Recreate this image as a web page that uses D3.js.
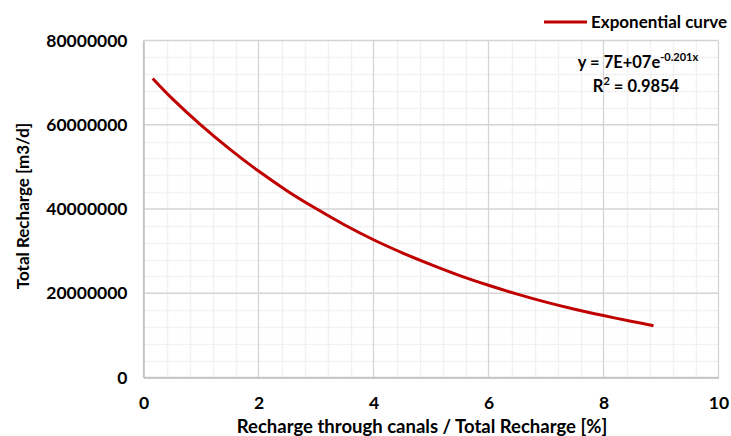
<!DOCTYPE html>
<html><head><meta charset="utf-8">
<script src="https://cdn.jsdelivr.net/npm/d3@7"></script>
<style>
body{margin:0;background:#fff;}
text{font-family:Lato,"Open Sans",sans-serif;font-weight:bold;fill:#000;}
</style></head>
<body><svg id="c" width="731" height="436"></svg>
<script>
// Data
const xValues = [0.16, 0.5, 1, 1.5, 2, 2.5, 3, 3.5, 4, 4.5, 5, 5.5, 6, 6.5, 7, 7.5, 8, 8.5, 8.87];
const yValues = [71.0e6, 66.2e6, 59.9e6, 54.2e6, 49.0e6, 44.3e6, 40.1e6, 36.2e6, 32.7e6, 29.6e6, 26.8e6, 24.2e6, 21.9e6, 19.8e6, 17.9e6, 16.2e6, 14.7e6, 13.3e6, 12.3e6];
const xTicks = [0, 2, 4, 6, 8, 10];
const yTicks = [0, 20000000, 40000000, 60000000, 80000000];
const seriesName = "Exponential curve";
const eqText = "y = 7E+07e";
const eqExp = "-0.201x";
const r2Text = " = 0.9854";

const svg = d3.select("#c");
const L = 143.5, R = 718.5, T = 40.5, B = 377.5;
const x = d3.scaleLinear().domain([0, 10]).range([L, R]);
const y = d3.scaleLinear().domain([0, 80000000]).range([B, T]);

// minor gridlines
const minorX = d3.range(0, 10.001, 0.4).filter(v => Math.abs(v / 2 - Math.round(v / 2)) > 1e-6);
const minorY = d3.range(0, 80000001, 4000000).filter(v => v % 20000000 !== 0);
svg.append("g").selectAll("line").data(minorX).join("line")
  .attr("x1", d => Math.round(x(d)) + 0.5).attr("x2", d => Math.round(x(d)) + 0.5)
  .attr("y1", T).attr("y2", B).attr("stroke", "#ececec").attr("stroke-width", 1.5).attr("stroke-dasharray", "2,1");
svg.append("g").selectAll("line").data(minorY).join("line")
  .attr("y1", d => Math.round(y(d)) + 0.5).attr("y2", d => Math.round(y(d)) + 0.5)
  .attr("x1", L).attr("x2", R).attr("stroke", "#ececec").attr("stroke-width", 1.5).attr("stroke-dasharray", "2,1");
// major gridlines
svg.append("g").selectAll("line").data(xTicks).join("line")
  .attr("x1", d => x(d)).attr("x2", d => x(d))
  .attr("y1", T).attr("y2", B).attr("stroke", "#d4d4d4").attr("stroke-width", 1.3);
svg.append("g").selectAll("line").data(yTicks).join("line")
  .attr("y1", d => y(d)).attr("y2", d => y(d))
  .attr("x1", L).attr("x2", R).attr("stroke", "#d4d4d4").attr("stroke-width", 1.3);

// axes
const xAxis = d3.axisBottom(x).tickValues(xTicks).tickSize(0).tickPadding(19).tickFormat(d3.format("d"));
const gx = svg.append("g").attr("transform", `translate(0,${B})`).call(xAxis);
gx.select(".domain").attr("stroke", "#bfbfbf").attr("stroke-width", 1.5);
gx.selectAll("text").attr("font-size", 17.5).attr("font-family", "Lato").attr("font-weight", "bold");

const yAxis = d3.axisLeft(y).tickValues(yTicks).tickSize(0).tickPadding(16).tickFormat(d3.format("d"));
const gy = svg.append("g").attr("transform", `translate(${L},0)`).call(yAxis);
gy.select(".domain").attr("stroke", "#bfbfbf").attr("stroke-width", 1.5);
gy.selectAll("text").attr("font-size", 17.5).attr("font-family", "Lato").attr("font-weight", "bold");

// curve
const pts = xValues.map((v, i) => [v, yValues[i]]);
svg.append("path").datum(pts)
  .attr("fill", "none").attr("stroke", "#C00000").attr("stroke-width", 3)
  .attr("d", d3.line().x(d => x(d[0])).y(d => y(d[1])).curve(d3.curveCatmullRom));

// axis titles
svg.append("text").attr("x", 422).attr("y", 433).attr("text-anchor", "middle")
  .attr("font-size", 18.5).text("Recharge through canals / Total Recharge [%]");
svg.append("text").attr("transform", "translate(29,206) rotate(-90)").attr("text-anchor", "middle")
  .attr("font-size", 17).text("Total Recharge [m3/d]");

// legend
svg.append("line").attr("x1", 544).attr("x2", 587).attr("y1", 22).attr("y2", 22)
  .attr("stroke", "#C00000").attr("stroke-width", 3);
svg.append("text").attr("x", 591).attr("y", 28).attr("font-size", 17).text(seriesName);

// equation
const eq = svg.append("text").attr("x", 638).attr("y", 68).attr("text-anchor", "middle").attr("font-size", 16.5);
eq.append("tspan").text(eqText);
eq.append("tspan").attr("font-size", 11).attr("dy", -7).text(eqExp);
const r2 = svg.append("text").attr("x", 636).attr("y", 92).attr("text-anchor", "middle").attr("font-size", 16.5);
r2.append("tspan").text("R");
r2.append("tspan").attr("font-size", 11).attr("dy", -7).text("2");
r2.append("tspan").attr("dy", 7).text(r2Text);
</script></body></html>
